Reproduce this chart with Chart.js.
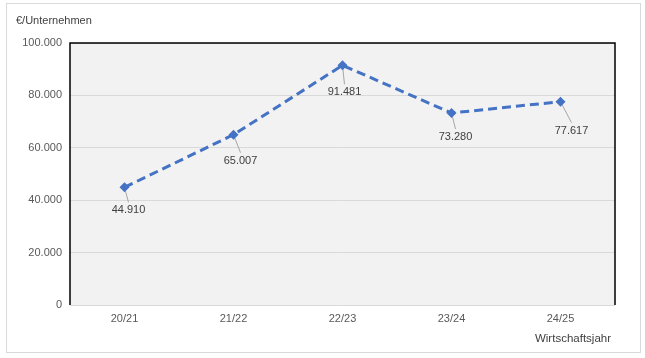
<!DOCTYPE html>
<html>
<head>
<meta charset="utf-8">
<script src="https://cdn.jsdelivr.net/npm/chart.js@4/dist/chart.umd.min.js"></script>
<style>
  html, body { margin: 0; padding: 0; background: #fff; }
  #wrap { width: 645px; height: 358px; position: relative; }
</style>
</head>
<body>
<div id="wrap"><canvas id="chart" width="645" height="358"></canvas></div>
<script>
'use strict';

var labels = ['20/21', '21/22', '22/23', '23/24', '24/25'];
var values = [44910, 65007, 91481, 73280, 77617];
var yTicks = [0, 20000, 40000, 60000, 80000, 100000];
var yTitle = '€/Unternehmen';
var xTitle = 'Wirtschaftsjahr';

// where each value label sits relative to its point
var labelOffsets = [[4, 23], [7, 26], [2, 27], [4, 24], [11, 29]];

var FONT = 'Arial, "Liberation Sans", sans-serif';

function fmt(v) {
  return String(Math.round(v)).replace(/\B(?=(\d{3})+(?!\d))/g, '.');
}

var framePlugin = {
  id: 'frame',
  beforeDraw: function (chart) {
    var c = chart.ctx, a = chart.chartArea;
    c.save();
    c.fillStyle = '#fff';
    c.fillRect(0, 0, chart.width, chart.height);
    c.strokeStyle = '#d9d9d9';
    c.lineWidth = 1;
    c.strokeRect(6.5, 3.5, 634, 349);
    c.fillStyle = '#f2f2f2';
    c.fillRect(a.left, a.top, a.right - a.left, a.bottom - a.top);
    c.restore();
  },
  beforeDatasetsDraw: function (chart) {
    // leader lines go under the markers
    var c = chart.ctx;
    var meta = chart.getDatasetMeta(0);
    c.save();
    c.strokeStyle = '#a6a6a6';
    c.lineWidth = 1;
    meta.data.forEach(function (pt, i) {
      var off = labelOffsets[i];
      c.beginPath();
      c.moveTo(pt.x, pt.y);
      c.lineTo(pt.x + off[0], pt.y + off[1] - 8);
      c.stroke();
    });
    c.restore();
  },
  afterDatasetsDraw: function (chart) {
    var c = chart.ctx, a = chart.chartArea;
    c.save();
    c.strokeStyle = '#000';
    c.lineWidth = 1.5;
    c.beginPath();
    c.moveTo(a.left, a.bottom);
    c.lineTo(a.left, a.top);
    c.lineTo(a.right, a.top);
    c.lineTo(a.right, a.bottom);
    c.stroke();
    c.restore();
  },
  afterDraw: function (chart) {
    var c = chart.ctx;
    var meta = chart.getDatasetMeta(0);
    c.save();
    c.font = '11px ' + FONT;
    c.textBaseline = 'middle';
    c.textAlign = 'center';
    c.fillStyle = '#404040';
    meta.data.forEach(function (pt, i) {
      var off = labelOffsets[i];
      c.fillText(fmt(values[i]), pt.x + off[0], pt.y + off[1]);
    });
    c.textAlign = 'left';
    c.fillText(yTitle, 16, 21);
    c.font = '11.5px ' + FONT;
    c.textAlign = 'right';
    c.fillText(xTitle, 611, 339);
    c.restore();
  }
};

var ctx = document.getElementById('chart').getContext('2d');

new Chart(ctx, {
  type: 'line',
  data: {
    labels: labels,
    datasets: [{
      data: values,
      borderColor: '#4472c4',
      backgroundColor: '#4472c4',
      borderWidth: 3,
      borderDash: [9, 5],
      pointStyle: 'rectRot',
      pointRadius: 5,
      pointHoverRadius: 5,
      pointBorderWidth: 0,
      tension: 0,
      fill: false
    }]
  },
  options: {
    responsive: false,
    animation: false,
    devicePixelRatio: 1,
    layout: { padding: { left: 10, right: 30, top: 43, bottom: 0 } },
    plugins: {
      legend: { display: false },
      tooltip: { enabled: false },
      title: { display: false }
    },
    scales: {
      x: {
        offset: true,
        grid: { display: false, offset: true, drawTicks: false },
        border: { display: false },
        ticks: { color: '#595959', font: { size: 11, family: FONT }, padding: 7 },
        afterFit: function (s) { s.height = 53; }
      },
      y: {
        min: 0,
        max: 100000,
        afterBuildTicks: function (s) {
          s.ticks = yTicks.map(function (v) { return { value: v }; });
        },
        grid: { color: '#d9d9d9', lineWidth: 1, drawTicks: false },
        border: { display: false },
        ticks: {
          color: '#595959',
          font: { size: 11, family: FONT },
          padding: 8,
          callback: function (v) { return fmt(v); }
        },
        afterFit: function (s) { s.width = 60; }
      }
    }
  },
  plugins: [framePlugin]
});
</script>
</body>
</html>
